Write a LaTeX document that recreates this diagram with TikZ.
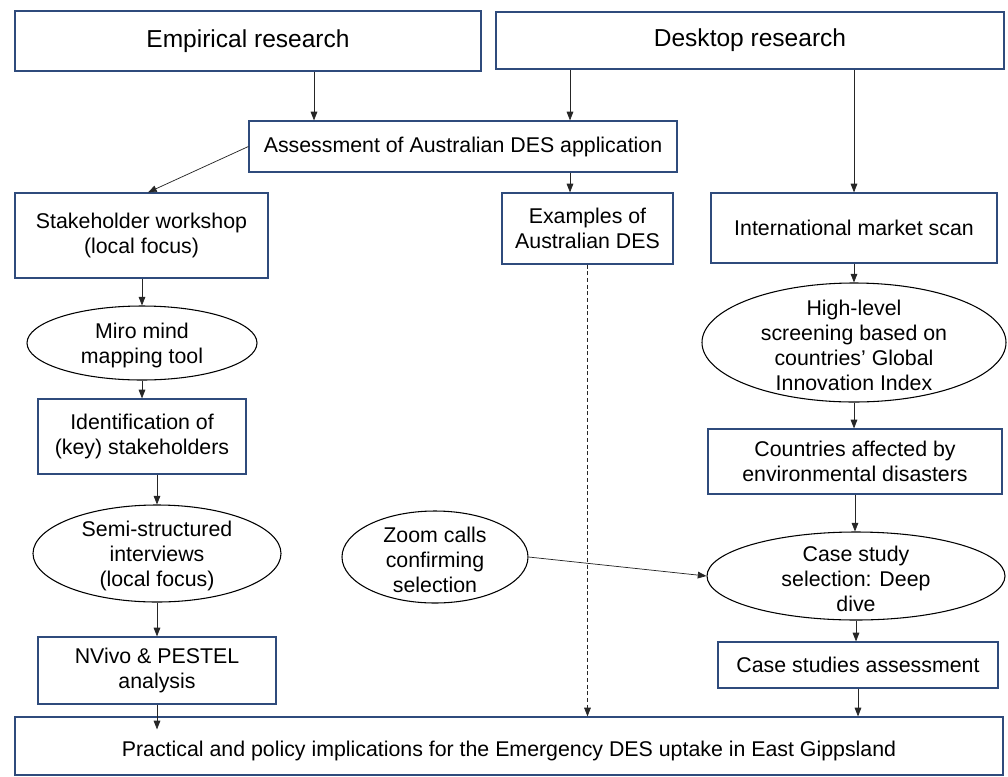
\documentclass[tikz,border=0pt]{standalone}
\usepackage{fontspec}
\setmainfont{Liberation Sans}
\usetikzlibrary{arrows.meta,shapes.geometric,calc}
\definecolor{boxblue}{HTML}{2F4B7C}
\newcommand\txtsmall{\fontsize{16}{18.75}\selectfont}
\newcommand\txtbig{\fontsize{18.4}{22}\selectfont}
\begin{document}
\begin{tikzpicture}[x=0.75pt,y=-0.75pt,
 box/.style={draw=boxblue,line width=0.9pt,fill=white,align=center,inner sep=0pt,font=\txtsmall},
 sz/.style 2 args={minimum width=#1*0.75pt,minimum height=#2*0.75pt},
 ell/.style={draw=black,line width=0.8pt,ellipse,inner sep=0pt},
 lbl/.style={font=\txtsmall,align=center,inner sep=0pt,yshift=-2pt},
 arr/.style={draw=black!85,line width=0.55pt,-{Triangle[length=6.5pt,width=5pt]}},
]
\useasboundingbox (0,0) rectangle (1008,776);

\node[box,sz={466}{60},font=\txtbig] (emp) at (248,41) {Empirical research};
\node[box,sz={508}{57},font=\txtbig] (desk) at (750,40.5) {Desktop research};
\node[box,sz={428}{51}] (ass) at (463,146.5) {Assessment of Australian DES application};
\node[box,sz={253}{85}] (stk) at (141.5,235.5) {Stakeholder workshop\\(local focus)};
\node[box,sz={171}{71}] (ex) at (587.5,228.5) {Examples of\\Australian DES};
\node[box,sz={286}{70}] (intl) at (854,228) {International market scan};
\node[ell,sz={230}{74},label={[lbl]center:Miro mind\\mapping tool}] (miro) at (142,343) {};
\node[box,sz={208}{75}] (idf) at (142,436.5) {Identification of\\(key) stakeholders};
\node[ell,sz={248}{97},label={[lbl]center:Semi-structured\\interviews\\(local focus)}] (semi) at (157,553.5) {};
\node[box,sz={238}{67}] (nv) at (157,670.5) {NVivo \& PESTEL\\analysis};
\node[ell,sz={186}{92},label={[lbl]center:Zoom calls\\confirming\\selection}] (zoom) at (435,557) {};
\node[ell,sz={304}{119},label={[lbl]center:High-level\\screening based on\\countries’ Global\\Innovation Index}] (hl) at (854,342.5) {};
\node[box,sz={294}{65}] (ctry) at (855,461.5) {Countries affected by\\environmental disasters};
\node[ell,sz={298}{88},label={[lbl]center:Case study\\selection: Deep\\dive}] (case) at (856,576) {};
\node[box,sz={280}{46}] (csa) at (858,665) {Case studies assessment};
\node[box,sz={988}{58}] (fin) at (509,746) {\raisebox{-4pt}[\height][\depth]{Practical and policy implications for the Emergency DES uptake in East Gippsland}};

\coordinate (c1) at (570,0);
\coordinate (c2) at (148,0);
\coordinate (c3) at (314,0);

\draw[arr] (emp.south -| c3) -- (ass.north -| c3);
\draw[arr] (desk.south -| c1) -- (ass.north -| c1);
\draw[arr] (desk.south -| intl.north) -- (intl.north);
\draw[arr] (ass.west) -- (stk.north -| c2);
\draw[arr] (ass.south -| c1) -- (ex.north -| c1);
\draw[arr] (stk.south -| miro.north) -- (miro.north);
\draw[arr] (miro.south) -- (miro.south |- idf.north);
\draw[arr] (idf.south -| semi.north) -- (semi.north);
\draw[arr] (semi.south) -- (semi.south |- nv.north);
\draw[arr] (nv.south) -- ($(fin.north -| nv.south)+(0,13)$);
\draw[arr,dash pattern=on 3pt off 2pt] (ex.south) -- (fin.north -| ex.south);
\draw[arr] (zoom.east) -- (case.west);
\draw[arr] (intl.south) -- (intl.south |- hl.north);
\draw[arr] (hl.south) -- (hl.south |- ctry.north);
\draw[arr] (ctry.south) -- (ctry.south |- case.north);
\draw[arr] (case.south) -- (case.south |- csa.north);
\draw[arr] (csa.south) -- (fin.north -| csa.south);
\end{tikzpicture}
\end{document}
